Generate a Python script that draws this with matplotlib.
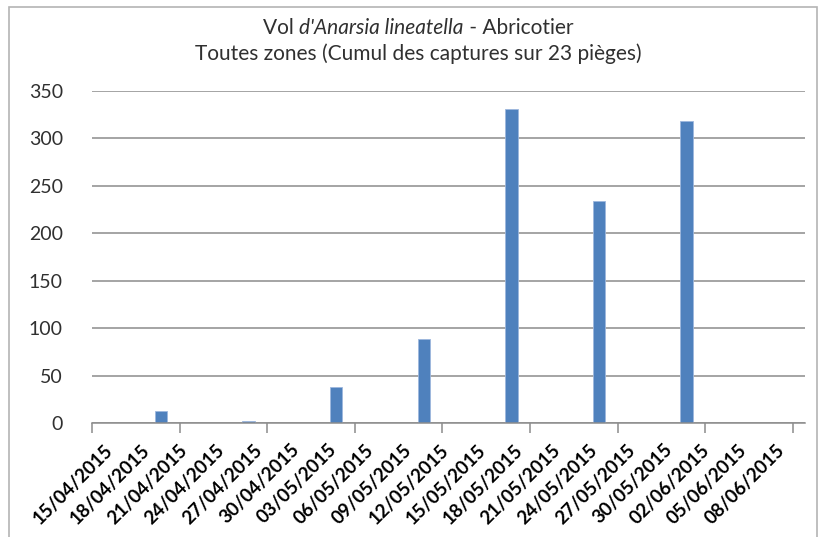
import matplotlib.pyplot as plt
from matplotlib.patches import Rectangle

# captures cumulées par période (8 périodes sur l'axe)
periodes = list(range(8))
captures = [13, 2, 38, 89, 331, 234, 318, 0]

dates = ["15/04/2015", "18/04/2015", "21/04/2015", "24/04/2015", "27/04/2015",
         "30/04/2015", "03/05/2015", "06/05/2015", "09/05/2015", "12/05/2015",
         "15/05/2015", "18/05/2015", "21/05/2015", "24/05/2015", "27/05/2015",
         "30/05/2015", "02/06/2015", "05/06/2015", "08/06/2015"]
yticks = [0, 50, 100, 150, 200, 250, 300, 350]

W, H = 821, 537
fig = plt.figure(figsize=(W / 100, H / 100), dpi=100)
ax = fig.add_axes([92 / W, 1 - 423 / H, (805 - 92) / W, (423 - 91) / H])

gris = "#8c8c8c"
bleu = "#4f81bd"
police = ["Lato", "DejaVu Sans"]

# barres décalées dans chaque intervalle comme dans l'original
ax.bar([p + 0.788 for p in periodes], captures, width=0.143,
       color=bleu, edgecolor="#9db7dd", linewidth=0.6, zorder=3)

ax.set_xlim(0, 8.14)
ax.set_ylim(0, 350)
ax.set_yticks(yticks)
ax.yaxis.grid(True, color=gris, linewidth=1.1, zorder=0)
for s in ["left", "right", "top"]:
    ax.spines[s].set_visible(False)
ax.spines["bottom"].set_color(gris)
ax.spines["bottom"].set_linewidth(1.1)
ax.spines["bottom"].set_zorder(4)

ax.tick_params(axis="y", length=0, pad=21, labelsize=14, labelcolor="#303030")
for lab in ax.get_yticklabels():
    lab.set_fontfamily(police)

# graduations majeures (sans étiquette) et étiquettes de dates en mineures
ax.set_xticks(range(9))
ax.set_xticklabels([])
ax.tick_params(axis="x", which="major", direction="out", length=7,
               color=gris, width=1.1)
pos = [(12 + 37.3 * k) / 87.6 for k in range(len(dates))]
ax.set_xticks(pos, minor=True)
ax.set_xticklabels(dates, minor=True, rotation=45, ha="right",
                   rotation_mode="anchor", fontsize=13.5, fontweight="bold",
                   family=police, color="black")
ax.tick_params(axis="x", which="minor", length=0, pad=13)

# titre sur deux lignes, partie en italique
fig.canvas.draw()
r = fig.canvas.get_renderer()
morceaux = [("Vol ", "normal"), ("d'Anarsia lineatella", "italic"),
            (" - Abricotier", "normal")]
tk = dict(fontsize=15, family=police, color="#303030", va="center", ha="left")
txts = [fig.text(0, 1 - 28 / H, s, style=st, **tk) for s, st in morceaux]
largeurs = [t.get_window_extent(r).width for t in txts]
x = 418 - sum(largeurs) / 2
for t, w in zip(txts, largeurs):
    t.set_x(x / W)
    x += w
fig.text(418 / W, 1 - 54 / H, "Toutes zones (Cumul des captures sur 23 pièges)",
         **{**tk, "ha": "center"})

# cadre du graphique
fig.add_artist(Rectangle((9 / W, -0.05), (817 - 9) / W, 1.05 - 7 / H,
                         transform=fig.transFigure, fill=False,
                         edgecolor="#b4b4b4", linewidth=1.2))

fig.savefig("out.png", dpi=100)
